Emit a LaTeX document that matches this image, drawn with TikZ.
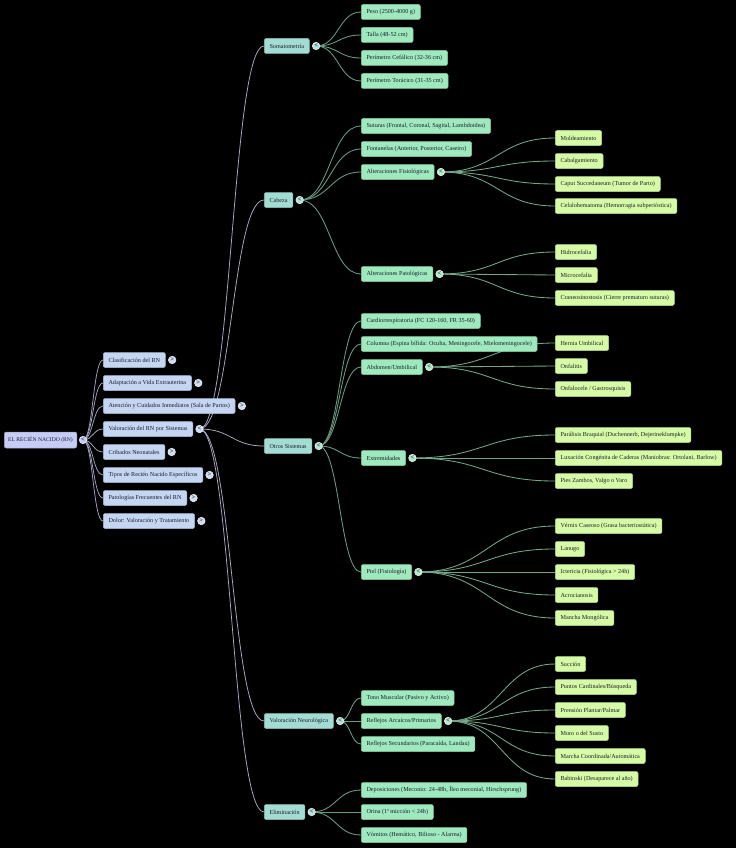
\documentclass[tikz,border=0pt]{standalone}
\usepackage{fontspec}
\setmainfont{Liberation Serif}
\usetikzlibrary{calc}
\definecolor{rootc}{HTML}{C7CCF6}
\definecolor{lone}{HTML}{C4D6F2}
\definecolor{ltwo}{HTML}{A3DCD3}
\definecolor{lthree}{HTML}{9FE9BE}
\definecolor{lfour}{HTML}{D6FBA6}
\definecolor{txt}{HTML}{1B1B2A}
\definecolor{eone}{HTML}{A0A4BE}
\definecolor{etwo}{HTML}{A8ACC4}
\definecolor{ethree}{HTML}{6A9C83}
\definecolor{efour}{HTML}{74A789}
\pgfdeclarelayer{bglayer}
\pgfdeclarelayer{edgelayer}
\pgfsetlayers{bglayer,edgelayer,main}
\tikzset{
  box/.style={anchor=west, rounded corners=2pt, minimum height=15pt, inner xsep=5.3pt, inner ysep=0pt, text=txt, font=\fontsize{6.15}{7}\selectfont, line width=0.5pt},
  rootbox/.style={box, fill=rootc, draw=rootc!80!black, inner xsep=4pt, minimum height=16pt, font=\fontsize{5.6}{7}\selectfont},
  onebox/.style={box, fill=lone, draw=lone!85!black},
  twobox/.style={box, fill=ltwo, draw=ltwo!85!black},
  threebox/.style={box, fill=lthree, draw=lthree!85!black},
  fourbox/.style={box, fill=lfour, draw=lfour!85!black},
  tog/.style={circle, inner sep=0pt, minimum size=7.5pt, draw=white!85!gray, line width=0.6pt, font=\fontsize{6.5}{6.5}\selectfont\bfseries, text=txt},
  e1/.style={draw=eone, line width=0.75pt},
  e2/.style={draw=etwo, line width=0.75pt},
  e3/.style={draw=ethree, line width=0.85pt},
  e4/.style={draw=efour, line width=0.85pt},
  curve/.style={to path={let \p1=(\tikztostart), \p2=(\tikztotarget) in .. controls ({(\x1+\x2)/2},\y1) and ({(\x1+\x2)/2},\y2) .. (\tikztotarget)}},
}
\begin{document}
\begin{tikzpicture}[x=1pt,y=-1pt]
\begin{pgfonlayer}{bglayer}
\fill[black] (0,0) rectangle (736,848);
\end{pgfonlayer}
\useasboundingbox (0,0) rectangle (736,848);
% root
\node[rootbox] (root) at (4,440) {EL RECIÉN NACIDO (RN)};
\node[tog, fill=rootc] (croot) at ([xshift=6pt]root.east) {<};
% level 1
\node[onebox] (cla) at (103,360) {Clasificación del RN};
\node[onebox] (ada) at (103,383) {Adaptación a Vida Extrauterina};
\node[onebox] (ate) at (103,406) {Atención y Cuidados Inmediatos (Sala de Partos)};
\node[onebox] (val) at (103,429) {Valoración del RN por Sistemas};
\node[onebox] (cri) at (103,452) {Cribados Neonatales};
\node[onebox] (tip) at (103,475) {Tipos de Recién Nacido Específicos};
\node[onebox] (pat) at (103,498) {Patologías Frecuentes del RN};
\node[onebox] (dol) at (103,521) {Dolor: Valoración y Tratamiento};
\foreach \n/\s in {cla/>,ada/>,ate/>,cri/>,tip/>,pat/>,dol/>,val/<}
  \node[tog, fill=lone!80!white] (c\n) at ([xshift=6.5pt]\n.east) {\s};
% level 2
\node[twobox] (som) at (264,46) {Somatometría};
\node[twobox] (cab) at (264,200) {Cabeza};
\node[twobox] (otr) at (264,446) {Otros Sistemas};
\node[twobox] (neu) at (264,721) {Valoración Neurológica};
\node[twobox] (eli) at (264,812) {Eliminación};
\foreach \n in {som,cab,otr,neu,eli}
  \node[tog, fill=ltwo!80!white] (c\n) at ([xshift=6.5pt]\n.east) {<};
% level 3
\node[threebox] (peso) at (361,12) {Peso (2500-4000 g)};
\node[threebox] (talla) at (361,35) {Talla (48-52 cm)};
\node[threebox] (pcef) at (361,58) {Perímetro Cefálico (32-36 cm)};
\node[threebox] (ptor) at (361,81) {Perímetro Torácico (31-35 cm)};
\node[threebox] (sut) at (361,126) {Suturas (Frontal, Coronal, Sagital, Lambdoidea)};
\node[threebox] (fon) at (361,149) {Fontanelas (Anterior, Posterior, Caseiro)};
\node[threebox] (afis) at (361,172) {Alteraciones Fisiológicas};
\node[threebox] (apat) at (361,274) {Alteraciones Patológicas};
\node[threebox] (card) at (361,321) {Cardiorrespiratoria (FC 120-160, FR 35-60)};
\node[threebox] (col) at (361,344) {Columna (Espina bífida: Oculta, Meningocele, Mielomeningocele)};
\node[threebox] (abd) at (361,367) {Abdomen/Umbilical};
\node[threebox] (ext) at (361,458) {Extremidades};
\node[threebox] (piel) at (361,572) {Piel (Fisiología)};
\node[threebox] (tono) at (361,698) {Tono Muscular (Pasivo y Activo)};
\node[threebox] (refl) at (361,721) {Reflejos Arcaicos/Primarios};
\node[threebox] (rsec) at (361,744) {Reflejos Secundarios (Paracaída, Landau)};
\node[threebox] (depo) at (361,790) {Deposiciones (Meconio: 24-48h, Íleo meconial, Hirschsprung)};
\node[threebox] (ori) at (361,812) {Orina (1ª micción < 24h)};
\node[threebox] (vom) at (361,835) {Vómitos (Hemático, Bilioso - Alarma)};
\foreach \n in {afis,apat,abd,ext,piel,refl}
  \node[tog, fill=lthree!80!white] (c\n) at ([xshift=6.5pt]\n.east) {<};
% level 4
\node[fourbox] (mold) at (555,138) {Moldeamiento};
\node[fourbox] (cabal) at (555,161) {Cabalgamiento};
\node[fourbox] (caput) at (555,184) {Caput Succedaneum (Tumor de Parto)};
\node[fourbox] (cefa) at (555,206) {Cefalohematoma (Hemorragia subperióstica)};
\node[fourbox] (hidro) at (555,252) {Hidrocefalia};
\node[fourbox] (micro) at (555,275) {Microcefalia};
\node[fourbox] (cran) at (555,298) {Craneosinostosis (Cierre prematuro suturas)};
\node[fourbox] (hern) at (555,343) {Hernia Umbilical};
\node[fourbox] (onfa) at (555,366) {Onfalitis};
\node[fourbox] (onfl) at (555,389) {Onfalocele / Gastrosquisis};
\node[fourbox] (para) at (555,435) {Parálisis Braquial (Duchennerb, Dejerineklumpke)};
\node[fourbox] (luxa) at (555,458) {Luxación Congénita de Caderas (Maniobras: Ortolani, Barlow)};
\node[fourbox] (pies) at (555,481) {Pies Zambos, Valgo o Varo};
\node[fourbox] (vern) at (555,526) {Vérnix Caseoso (Grasa bacteriostática)};
\node[fourbox] (lanu) at (555,549) {Lanugo};
\node[fourbox] (icte) at (555,572) {Ictericia (Fisiológica > 24h)};
\node[fourbox] (acro) at (555,595) {Acrocianosis};
\node[fourbox] (manc) at (555,618) {Mancha Mongólica};
\node[fourbox] (succ) at (555,664) {Succión};
\node[fourbox] (punt) at (555,687) {Puntos Cardinales/Búsqueda};
\node[fourbox] (pren) at (555,710) {Prensión Plantar/Palmar};
\node[fourbox] (moro) at (555,733) {Moro o del Susto};
\node[fourbox] (marc) at (555,756) {Marcha Coordinada/Automática};
\node[fourbox] (babi) at (555,779) {Babinski (Desaparece al año)};
% edges
\begin{pgfonlayer}{edgelayer}
\foreach \t in {cla,ada,ate,val,cri,tip,pat,dol}
  \draw[e1] (croot.center) to[curve] (\t.west);
\foreach \t in {som,cab,otr,neu,eli}
  \draw[e2] (cval.center) to[curve] (\t.west);
\foreach \t in {peso,talla,pcef,ptor}
  \draw[e3] (csom.center) to[curve] (\t.west);
\foreach \t in {sut,fon,afis,apat}
  \draw[e3] (ccab.center) to[curve] (\t.west);
\foreach \t in {card,col,abd,ext,piel}
  \draw[e3] (cotr.center) to[curve] (\t.west);
\foreach \t in {tono,refl,rsec}
  \draw[e3] (cneu.center) to[curve] (\t.west);
\foreach \t in {depo,ori,vom}
  \draw[e3] (celi.center) to[curve] (\t.west);
\foreach \t in {mold,cabal,caput,cefa}
  \draw[e4] (cafis.center) to[curve] (\t.west);
\foreach \t in {hidro,micro,cran}
  \draw[e4] (capat.center) to[curve] (\t.west);
\foreach \t in {hern,onfa,onfl}
  \draw[e4] (cabd.center) to[curve] (\t.west);
\foreach \t in {para,luxa,pies}
  \draw[e4] (cext.center) to[curve] (\t.west);
\foreach \t in {vern,lanu,icte,acro,manc}
  \draw[e4] (cpiel.center) to[curve] (\t.west);
\foreach \t in {succ,punt,pren,moro,marc,babi}
  \draw[e4] (crefl.center) to[curve] (\t.west);
\end{pgfonlayer}
\end{tikzpicture}
\end{document}
